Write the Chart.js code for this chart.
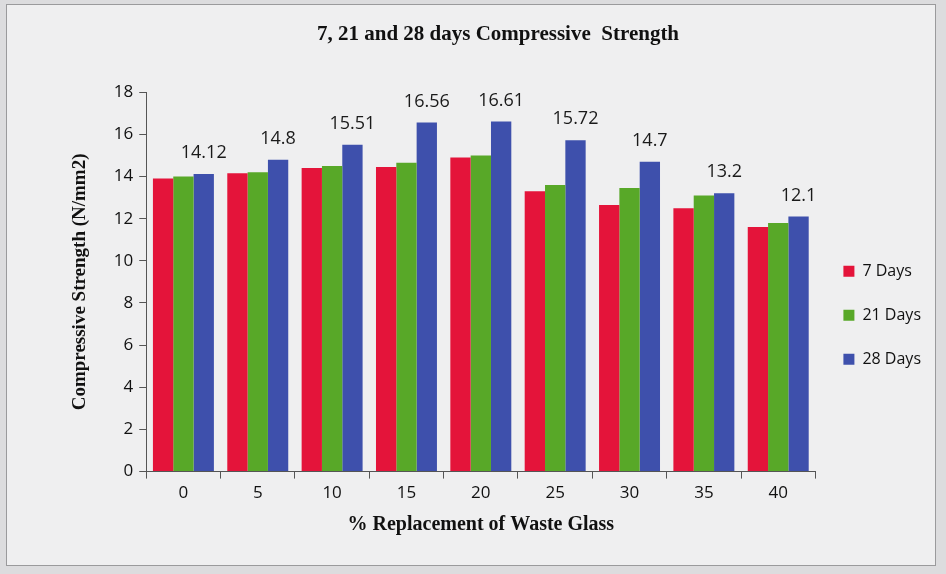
<!DOCTYPE html>
<html>
<head>
<meta charset="utf-8">
<script src="https://cdn.jsdelivr.net/npm/chart.js@4/dist/chart.umd.min.js"></script>
<style>
  html, body { margin: 0; padding: 0; background: #dcdcde; }
  #wrap {
    position: absolute; left: 6px; top: 4px; width: 930px; height: 562px;
    background: #efeff0; border: 1px solid #9a9a9c; box-sizing: border-box;
  }
</style>
</head>
<body>
<div id="wrap"><canvas id="strengthChart" width="928" height="560"></canvas></div>
<script>
const replacement = ["0", "5", "10", "15", "20", "25", "30", "35", "40"];
const days7 = [13.9, 14.15, 14.4, 14.45, 14.9, 13.3, 12.65, 12.5, 11.6];
const days21 = [14.0, 14.2, 14.5, 14.65, 15.0, 13.6, 13.45, 13.1, 11.8];
const days28 = [14.12, 14.8, 15.51, 16.56, 16.61, 15.72, 14.7, 13.2, 12.1];
const yTicks = [0, 2, 4, 6, 8, 10, 12, 14, 16, 18];

// writes the 28 day values above the blue bars
const valueLabels = {
    id: "valueLabels",
    afterDatasetsDraw(chart) {
        const ctx = chart.ctx;
        const meta = chart.getDatasetMeta(2);
        ctx.save();
        ctx.fillStyle = "#1a1a1a";
        ctx.font = "18px 'Open Sans'";
        ctx.textAlign = "center";
        ctx.textBaseline = "bottom";
        meta.data.forEach((bar, i) => {
            ctx.fillText(String(days28[i]), bar.x, bar.y - 12);
        });
        ctx.restore();
    }
};

const ctx = document.getElementById("strengthChart").getContext("2d");

new Chart(ctx, {
    type: "bar",
    data: {
        labels: replacement,
        datasets: [
            { label: "7 Days", data: days7, backgroundColor: "rgb(228,20,58)" },
            { label: "21 Days", data: days21, backgroundColor: "rgb(88,168,40)" },
            { label: "28 Days", data: days28, backgroundColor: "rgb(62,80,172)" }
        ]
    },
    options: {
        responsive: false,
        animation: false,
        layout: { padding: { left: 58, right: 4, top: 6, bottom: 24 } },
        datasets: { bar: { categoryPercentage: 0.82, barPercentage: 1.0 } },
        scales: {
            x: {
                grid: { drawOnChartArea: false, drawTicks: true, tickLength: 7, color: "#555" },
                border: { color: "#555" },
                ticks: { color: "#111", font: { family: "'Open Sans'", size: 17 }, padding: 4 },
                title: {
                    display: true, text: "% Replacement of Waste Glass", color: "#111",
                    font: { family: "'Liberation Serif'", size: 20, weight: "bold" }, padding: { top: 6 }
                }
            },
            y: {
                min: 0, max: 18,
                afterBuildTicks: (axis) => { axis.ticks = yTicks.map(v => ({ value: v })); },
                grid: { drawOnChartArea: false, drawTicks: true, tickLength: 7, color: "#555" },
                border: { color: "#555" },
                ticks: { color: "#111", font: { family: "'Open Sans'", size: 17 }, padding: 6 },
                title: {
                    display: true, text: "Compressive Strength (N/mm2)", color: "#111",
                    font: { family: "'Liberation Serif'", size: 19, weight: "bold" }, padding: { bottom: 16 }
                }
            }
        },
        plugins: {
            title: {
                display: true, text: "7, 21 and 28 days Compressive  Strength", color: "#111",
                font: { family: "'Liberation Serif'", size: 21, weight: "bold" }, padding: { top: 11, bottom: 45 }
            },
            legend: {
                position: "right",
                title: { display: true, text: " ", padding: { top: 0, bottom: 64 } },
                labels: {
                    boxWidth: 11, boxHeight: 11, padding: 28, color: "#111",
                    font: { family: "'Liberation Sans Narrow', 'Open Sans'", size: 16 }
                }
            },
            tooltip: { enabled: false }
        }
    },
    plugins: [valueLabels]
});
</script>
</body>
</html>
